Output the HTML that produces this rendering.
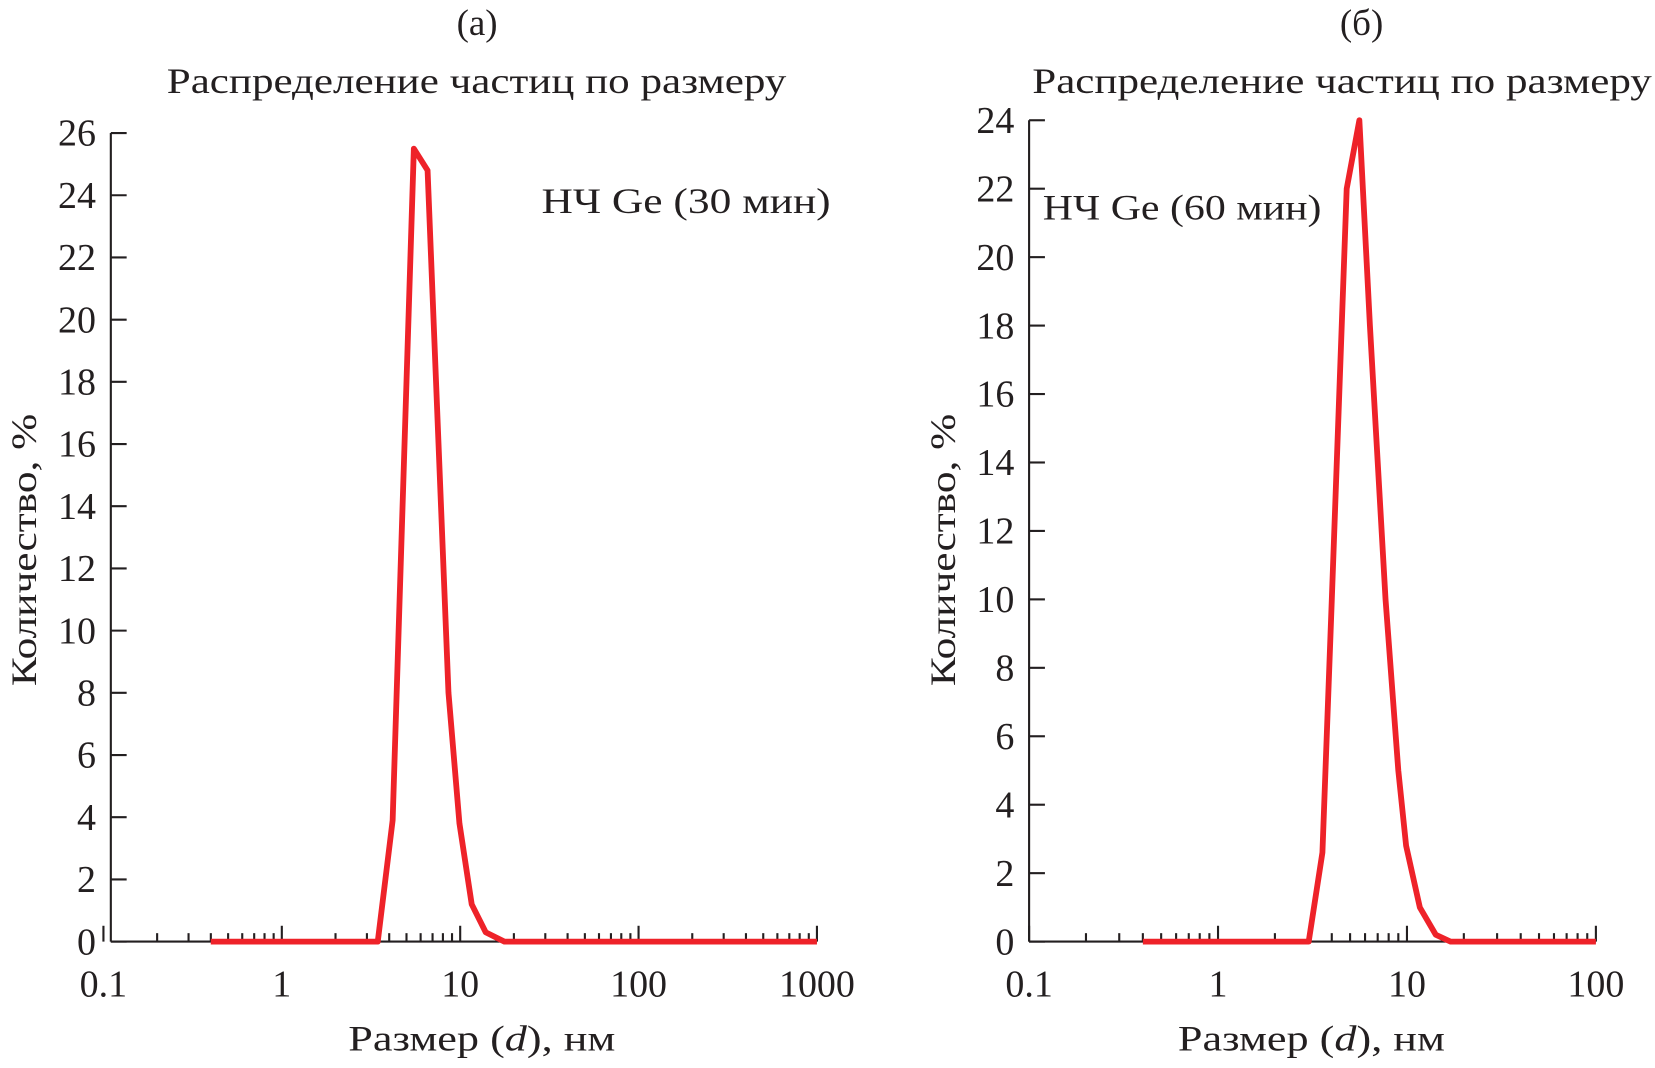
<!DOCTYPE html>
<html><head><meta charset="utf-8"><style>
body{margin:0;background:#fff}
svg text{font-family:"Liberation Serif",serif;fill:#231f20}
</style></head><body>
<svg width="1655" height="1063" viewBox="0 0 1568 1007" preserveAspectRatio="none" id="fig">
<text x="452" y="33" font-size="35" text-anchor="middle">(a)</text>
<text x="158" y="88" font-size="34" textLength="587" lengthAdjust="spacingAndGlyphs">Распределение частиц по размеру</text>
<text x="1290" y="33" font-size="35" text-anchor="middle">(б)</text>
<text x="978" y="88" font-size="34" textLength="587" lengthAdjust="spacingAndGlyphs">Распределение частиц по размеру</text>
<text x="513" y="202" font-size="34" textLength="274" lengthAdjust="spacingAndGlyphs">НЧ Ge (30 мин)</text>
<text x="988" y="208" font-size="34" textLength="264" lengthAdjust="spacingAndGlyphs">НЧ Ge (60 мин)</text>
<text transform="translate(34,650) rotate(-90)" font-size="34" textLength="258" lengthAdjust="spacingAndGlyphs">Количество, %</text>
<text transform="translate(905,650) rotate(-90)" font-size="34" textLength="258" lengthAdjust="spacingAndGlyphs">Количество, %</text>
<text x="330" y="995" font-size="34" textLength="253" lengthAdjust="spacingAndGlyphs">Размер (<tspan font-style="italic">d</tspan>), нм</text>
<text x="1116" y="995" font-size="34" textLength="253" lengthAdjust="spacingAndGlyphs">Размер (<tspan font-style="italic">d</tspan>), нм</text>
</svg>
<script>
const aSizes=[0.4,3.45,4.18,5.5,6.56,8.6,9.9,11.6,13.9,17.7,1000];
const aValues=[0,0,3.9,25.5,24.8,8,3.8,1.2,0.3,0,0];
const bSizes=[0.4,3.02,3.57,4.0,4.8,5.6,6.37,7.7,9.0,9.9,11.7,14.2,17,100];
const bValues=[0,0,2.6,10,22,24,18,10,5,2.8,1.0,0.2,0,0];
const aYTicks=[0,2,4,6,8,10,12,14,16,18,20,22,24,26];
const bYTicks=[0,2,4,6,8,10,12,14,16,18,20,22,24];
const aXTicks=[0.1,1,10,100,1000];
const bXTicks=[0.1,1,10,100];
const aXLabels=["0.1","1","10","100","1000"];
const bXLabels=["0.1","1","10","100"];
const NS="http://www.w3.org/2000/svg";
const svg=document.getElementById('fig');
function mk(t,a){const e=document.createElementNS(NS,t);for(const k in a)e.setAttribute(k,a[k]);svg.appendChild(e);return e;}
function panel(p,cfg){
 const sx=v=>cfg.x0+(Math.log10(v)+1)*cfg.dec;
 const sy=v=>cfg.y0-v*cfg.unit;
 const xEnd=sx(cfg.xMax);
 let e=mk('line',{x1:cfg.ax,y1:sy(cfg.yMax),x2:cfg.ax,y2:cfg.y0,stroke:'#231f20','stroke-width':2});
 
 
 e=mk('line',{x1:cfg.ax,y1:cfg.y0,x2:xEnd,y2:cfg.y0,stroke:'#231f20','stroke-width':2});
 
 
 cfg.yTicks.forEach(v=>{
  e=mk('line',{x1:cfg.ax,y1:sy(v),x2:cfg.ax+15,y2:sy(v),stroke:'#231f20','stroke-width':2});
  
  
  e=mk('text',{x:cfg.ax-14,y:sy(v)+12,'font-size':36,'text-anchor':'end'});
  e.textContent=v;
  
  
 });
 cfg.xTicks.forEach((v,i)=>{
  e=mk('line',{x1:sx(v),y1:cfg.y0,x2:sx(v),y2:cfg.y0-15,stroke:'#231f20','stroke-width':2});
  
  
  e=mk('text',{x:sx(v),y:cfg.y0+52,'font-size':36,'text-anchor':'middle'});
  e.textContent=cfg.xLabels[i];
  
  
  if(i<cfg.xTicks.length-1){for(let m=2;m<10;m++){
   e=mk('line',{x1:sx(v*m),y1:cfg.y0,x2:sx(v*m),y2:cfg.y0-8,stroke:'#231f20','stroke-width':2});
   
   
  }}
 });
 const pts=cfg.sizes.map((s,i)=>sx(s).toFixed(1)+','+sy(cfg.vals[i]).toFixed(1)).join(' ');
 e=mk('polyline',{points:pts,fill:'none',stroke:'#ee2229','stroke-width':5.5,'stroke-linejoin':'round'});
 
 
}
panel('panel-a',{x0:98,dec:169,ax:105,y0:892,unit:29.46,yMax:26,xMax:1000,yTicks:aYTicks,xTicks:aXTicks,xLabels:aXLabels,sizes:aSizes,vals:aValues});
panel('panel-b',{x0:975,dec:179,ax:975,y0:892,unit:32.42,yMax:24,xMax:100,yTicks:bYTicks,xTicks:bXTicks,xLabels:bXLabels,sizes:bSizes,vals:bValues});
</script>
</body></html>
